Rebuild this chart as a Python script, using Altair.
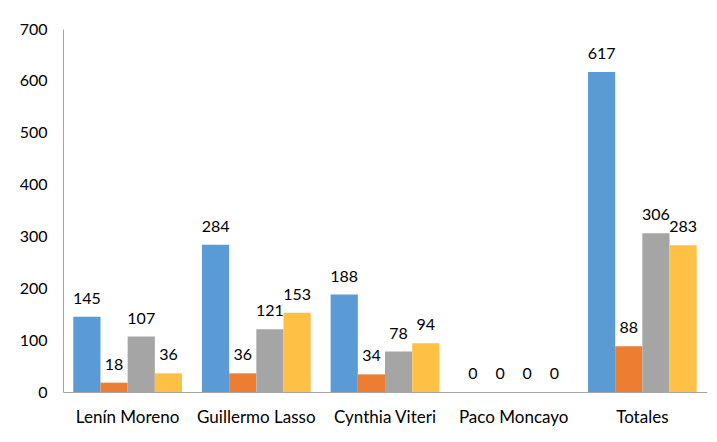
import altair as alt
import pandas as pd

categories = ["Lenín Moreno", "Guillermo Lasso", "Cynthia Viteri", "Paco Moncayo", "Totales"]
series_names = ["Serie 1", "Serie 2", "Serie 3", "Serie 4"]
serie1 = [145, 284, 188, 0, 617]
serie2 = [18, 36, 34, 0, 88]
serie3 = [107, 121, 78, 0, 306]
serie4 = [36, 153, 94, 0, 283]
colors = ["#5B9BD5", "#ED7D31", "#A5A5A5", "#FFC145"]

rows = []
for s, vals in zip(series_names, [serie1, serie2, serie3, serie4]):
    for c, v in zip(categories, vals):
        rows.append({"categoria": c, "serie": s, "valor": v})
df = pd.DataFrame(rows)

FONT = "Lato"

base = alt.Chart(df).encode(
    x=alt.X("categoria:N", sort=categories, title=None,
            scale=alt.Scale(paddingInner=0.155, paddingOuter=0.08),
            axis=alt.Axis(labelAngle=0, ticks=False, domainColor="#A6A6A6",
                          labelFontSize=17, labelFont=FONT, labelColor="#000000",
                          labelPadding=17)),
    xOffset=alt.XOffset("serie:N", sort=series_names),
)

bars = base.mark_bar().encode(
    y=alt.Y("valor:Q", title=None,
            scale=alt.Scale(domain=[0, 700]),
            axis=alt.Axis(values=list(range(0, 701, 100)), grid=False, ticks=False,
                          domainColor="#A6A6A6", labelFontSize=16, labelFont=FONT,
                          labelColor="#000000", labelPadding=16)),
    color=alt.Color("serie:N", sort=series_names,
                    scale=alt.Scale(domain=series_names, range=colors), legend=None),
)

labels = base.mark_text(baseline="bottom", dy=-10, fontSize=16, font=FONT, color="#000000").encode(
    y=alt.Y("valor:Q"),
    text=alt.Text("valor:Q"),
)

chart = alt.layer(bars, labels).properties(
    width=644, height=363,
    padding={"left": 11, "top": 13, "right": 2, "bottom": 5},
).configure_view(stroke=None)

chart.save("out.html", embed_options={"renderer": "svg", "actions": False})
